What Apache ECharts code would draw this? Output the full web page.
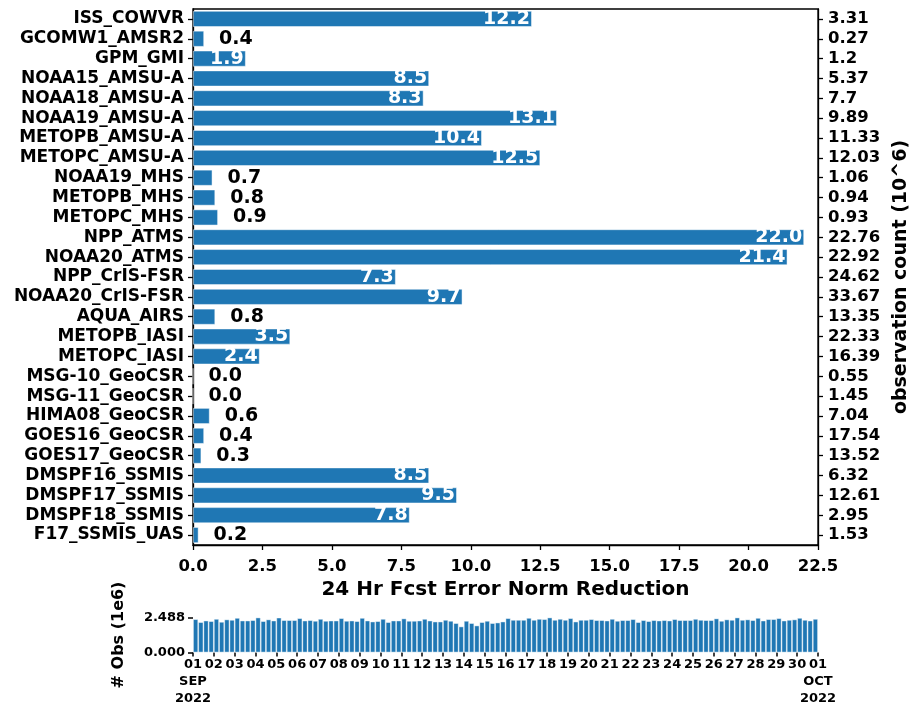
<!DOCTYPE html>
<html>
<head>
<meta charset="utf-8">
<title>24 Hr Fcst Error Norm Reduction</title>
<script src="https://cdn.jsdelivr.net/npm/echarts@6/dist/echarts.min.js"></script>
<style>
  html, body { margin: 0; padding: 0; background: #fff; }
  #chart { width: 911px; height: 706px; }
</style>
</head>
<body>
<div id="chart"></div>
<script>
// instruments, top to bottom
const instruments = [
  'ISS_COWVR', 'GCOMW1_AMSR2', 'GPM_GMI', 'NOAA15_AMSU-A', 'NOAA18_AMSU-A',
  'NOAA19_AMSU-A', 'METOPB_AMSU-A', 'METOPC_AMSU-A', 'NOAA19_MHS', 'METOPB_MHS',
  'METOPC_MHS', 'NPP_ATMS', 'NOAA20_ATMS', 'NPP_CrIS-FSR', 'NOAA20_CrIS-FSR',
  'AQUA_AIRS', 'METOPB_IASI', 'METOPC_IASI', 'MSG-10_GeoCSR', 'MSG-11_GeoCSR',
  'HIMA08_GeoCSR', 'GOES16_GeoCSR', 'GOES17_GeoCSR', 'DMSPF16_SSMIS', 'DMSPF17_SSMIS',
  'DMSPF18_SSMIS', 'F17_SSMIS_UAS'
]
// 24 hr forecast error norm reduction
const reduction = [
  12.2, 0.4, 1.9, 8.5, 8.3,
  13.1, 10.4, 12.5, 0.7, 0.8,
  0.9, 22.0, 21.4, 7.3, 9.7,
  0.8, 3.5, 2.4, 0.0, 0.0,
  0.6, 0.4, 0.3, 8.5, 9.5,
  7.8, 0.2
]
// observation count (10^6), right axis labels
const obsCount = [
  3.31, 0.27, 1.2, 5.37, 7.7,
  9.89, 11.33, 12.03, 1.06, 0.94,
  0.93, 22.76, 22.92, 24.62, 33.67,
  13.35, 22.33, 16.39, 0.55, 1.45,
  7.04, 17.54, 13.52, 6.32, 12.61,
  2.95, 1.53
]
// # obs (1e6) per 6-hourly cycle, 01 Sep 00Z .. 30 Sep 18Z
const cycleObs = [
  2.37, 2.16, 2.27, 2.23,  2.39, 2.18, 2.35, 2.32,  2.46, 2.27, 2.27, 2.30,
  2.488, 2.23, 2.35, 2.27, 2.48, 2.30, 2.30, 2.30,  2.44, 2.27, 2.30, 2.25,
  2.39, 2.25, 2.27, 2.27,  2.44, 2.25, 2.27, 2.23,  2.46, 2.27, 2.20, 2.23,
  2.39, 2.16, 2.27, 2.27,  2.42, 2.25, 2.25, 2.27,  2.39, 2.27, 2.20, 2.20,
  2.32, 2.25, 2.09, 1.85,  2.25, 2.09, 1.92, 2.16,  2.25, 2.09, 2.13, 2.20,
  2.44, 2.32, 2.32, 2.32,  2.46, 2.32, 2.39, 2.37,  2.488, 2.32, 2.39, 2.32,
  2.44, 2.20, 2.32, 2.32,  2.37, 2.30, 2.30, 2.27,  2.39, 2.25, 2.30, 2.30,
  2.37, 2.16, 2.30, 2.23,  2.30, 2.27, 2.30, 2.27,  2.37, 2.30, 2.30, 2.30,
  2.39, 2.32, 2.30, 2.30,  2.42, 2.25, 2.35, 2.32,  2.488, 2.32, 2.35, 2.30,
  2.46, 2.27, 2.37, 2.37,  2.44, 2.27, 2.32, 2.35,  2.46, 2.32, 2.27, 2.39
]
const obsTicks = [0, 2.488]
const dayTicks = [
  '01', '02', '03', '04', '05', '06', '07', '08', '09', '10',
  '11', '12', '13', '14', '15', '16', '17', '18', '19', '20',
  '21', '22', '23', '24', '25', '26', '27', '28', '29', '30', '01'
]
const monthTicks = ['SEP\n2022', 'OCT\n2022']

const FONT = 'DejaVu Sans'
const BLUE = '#1f77b4'

const barData = reduction.map((v) => {
  const inside = v >= 1.5
  return {
    value: v,
    label: inside
      ? { position: 'insideRight', distance: 2, color: '#fff' }
      : { position: 'right', distance: 15, color: '#000' },
  }
})

const hiddenLine = { show: true, lineStyle: { color: 'rgba(0,0,0,0)', width: 0 } }
const lastDay = dayTicks.length - 1

const option = {
  backgroundColor: '#fff',
  animation: false,
  textStyle: { fontFamily: FONT, fontWeight: 'bold', color: '#000' },
  grid: [
    {
      left: 193, right: 93, top: 9, height: 536,
      outerBoundsMode: 'none', containLabel: false,
      show: true, borderColor: '#000', borderWidth: 1.3,
    },
    { left: 193, right: 93, top: 617.5, height: 35, outerBoundsMode: 'none', containLabel: false },
  ],
  xAxis: [
    {
      gridIndex: 0,
      type: 'value',
      min: 0,
      max: 22.5,
      interval: 2.5,
      name: '24 Hr Fcst Error Norm Reduction',
      nameLocation: 'middle',
      nameGap: 33,
      nameTextStyle: { fontFamily: FONT, fontWeight: 'bold', fontSize: 20, color: '#000' },
      axisLine: { show: true, lineStyle: { color: '#000', width: 1.3 } },
      axisTick: { show: true, length: 5, lineStyle: { color: '#000', width: 1.3 } },
      axisLabel: {
        margin: 13, fontFamily: FONT, fontWeight: 'bold', fontSize: 16.5, color: '#000',
        showMinLabel: true, showMaxLabel: true, formatter: (v) => v.toFixed(1),
      },
      splitLine: { show: false },
    },
    {
      // day ticks of the obs panel
      gridIndex: 1,
      type: 'value',
      position: 'bottom',
      min: 0,
      max: lastDay,
      interval: 1,
      axisLine: hiddenLine,
      axisTick: { show: true, length: 4, lineStyle: { color: '#000', width: 1.5 } },
      axisLabel: {
        margin: 6,
        fontFamily: FONT,
        fontWeight: 'bold',
        fontSize: 13,
        color: '#000',
        showMinLabel: true,
        showMaxLabel: true,
        hideOverlap: false,
        formatter: (v) => dayTicks[Math.round(v)],
      },
      splitLine: { show: false },
    },
    {
      // month / year under the first and last day
      gridIndex: 1,
      type: 'value',
      position: 'bottom',
      offset: 0,
      min: 0,
      max: lastDay,
      interval: lastDay,
      axisLine: { show: false },
      axisTick: { show: false },
      axisLabel: {
        margin: 21,
        fontFamily: FONT,
        fontWeight: 'bold',
        fontSize: 13,
        lineHeight: 17,
        color: '#000',
        showMinLabel: true,
        showMaxLabel: true,
        formatter: (v) => (v === 0 ? monthTicks[0] : monthTicks[1]),
      },
      splitLine: { show: false },
    },
  ],
  yAxis: [
    {
      gridIndex: 0,
      type: 'category',
      data: instruments,
      inverse: true,
      axisLine: { show: true, lineStyle: { color: '#000', width: 1.3 } },
      axisTick: { show: true, interval: 0, alignWithLabel: true, length: 5, lineStyle: { color: '#000', width: 1.3 } },
      axisLabel: { interval: 0, margin: 9, fontFamily: FONT, fontWeight: 'bold', fontSize: 17, color: '#000' },
    },
    {
      gridIndex: 0,
      type: 'category',
      position: 'right',
      data: instruments,
      inverse: true,
      name: 'observation count (10^6)',
      nameLocation: 'middle',
      nameRotate: 90,
      nameGap: 73,
      nameTextStyle: { fontFamily: FONT, fontWeight: 'bold', fontSize: 19, color: '#000' },
      axisLine: { show: true, lineStyle: { color: '#000', width: 1.3 } },
      axisTick: { show: true, interval: 0, alignWithLabel: true, length: 5, lineStyle: { color: '#000', width: 1.3 } },
      axisLabel: {
        interval: 0, margin: 10, fontFamily: FONT, fontWeight: 'bold', fontSize: 16.5, color: '#000',
        formatter: (v, i) => String(obsCount[i]),
      },
    },
    {
      gridIndex: 1,
      type: 'value',
      min: obsTicks[0],
      max: obsTicks[1],
      interval: obsTicks[1] - obsTicks[0],
      name: '# Obs (1e6)',
      nameLocation: 'middle',
      nameRotate: 90,
      nameGap: 66,
      nameTextStyle: { fontFamily: FONT, fontWeight: 'bold', fontSize: 16, color: '#000' },
      axisLine: hiddenLine,
      axisTick: { show: true, length: 5, lineStyle: { color: '#000', width: 1.5 } },
      axisLabel: {
        margin: 8, fontFamily: FONT, fontWeight: 'bold', fontSize: 13, color: '#000',
        showMinLabel: true, showMaxLabel: true, formatter: (v) => v.toFixed(3),
      },
      splitLine: { show: false },
    },
  ],
  series: [
    {
      type: 'bar',
      xAxisIndex: 0,
      yAxisIndex: 0,
      data: barData,
      barWidth: 16,
      itemStyle: { color: BLUE, borderColor: 'rgba(255,255,255,0.6)', borderWidth: 0.8 },
      label: {
        show: true,
        fontFamily: FONT,
        fontWeight: 'bold',
        fontSize: 19,
        formatter: (p) => p.value.toFixed(1),
      },
    },
    {
      type: 'bar',
      xAxisIndex: 1,
      yAxisIndex: 2,
      // each 6-hourly cycle is a quarter day on the axis
      data: cycleObs.map((v, i) => [i * 0.25 + 0.125, v]),
      barWidth: 5.2,
      itemStyle: { color: BLUE, borderColor: 'rgba(255,255,255,0.55)', borderWidth: 0.8 },
    },
  ],
}

const chart = echarts.init(document.getElementById('chart'))
chart.setOption(option)
</script>
</body>
</html>
